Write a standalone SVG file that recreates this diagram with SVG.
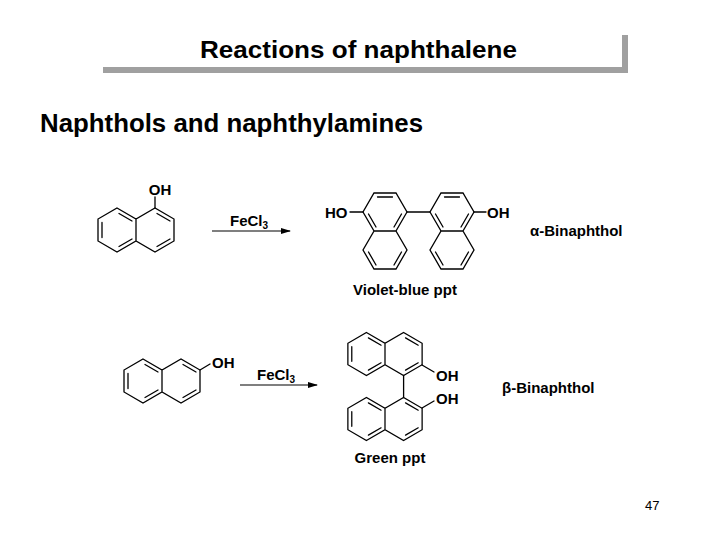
<svg xmlns="http://www.w3.org/2000/svg" xmlns:xlink="http://www.w3.org/1999/xlink" width="720" height="540" viewBox="0 0 720 540">
<style>
text{font-family:"Liberation Sans",Arial,sans-serif;fill:#000}
.b{font-weight:bold}
.lbl{font-size:15px;font-weight:bold}
.bd{stroke:#000;stroke-width:1.3;fill:none;stroke-linecap:round}
</style>
<defs>
<g id="naph" class="bd">
<path d="M-19,-22 L0,-11 L19,-22 L38,-11 L38,11 L19,22 L0,11 L-19,22 L-38,11 L-38,-11 Z M0,-11 L0,11"/>
<path d="M-17,-16.5 L-4,-9 M-4,9 L-17,16.5 M-34,7.5 L-34,-7.5 M21,-16.5 L34,-9 M34,9 L21,16.5"/>
</g>
<marker id="ah" markerWidth="10" markerHeight="6" refX="9" refY="3" orient="auto" markerUnits="userSpaceOnUse"><path d="M0,0 L10,3 L0,6 Z" fill="#000"/></marker>
</defs>
<rect width="720" height="540" fill="#fff"/>
<g id="title">
<rect x="103" y="67" width="525" height="6" fill="#a0a0a0"/>
<rect x="622" y="35" width="6" height="38" fill="#a0a0a0"/>
<text x="200" y="58" class="b" font-size="24" textLength="317" lengthAdjust="spacingAndGlyphs">Reactions of naphthalene</text>
</g>
<text x="40" y="132" class="b" font-size="25" textLength="383" lengthAdjust="spacingAndGlyphs">Naphthols and naphthylamines</text>
<g id="naphthol1">
<use xlink:href="#naph" transform="translate(136,230)"/>
<line class="bd" x1="155" y1="208" x2="155" y2="197"/>
<text x="160" y="195" text-anchor="middle" class="lbl">OH</text>
</g>
<g id="alpha">
<use xlink:href="#naph" transform="translate(385,231) rotate(90)"/>
<use xlink:href="#naph" transform="translate(452,231) scale(-1,1) rotate(90)"/>
<line class="bd" x1="407" y1="212" x2="430" y2="212"/>
<line class="bd" x1="363" y1="212" x2="350" y2="212"/>
<line class="bd" x1="474" y1="212" x2="486" y2="212"/>
<text x="325" y="218" class="lbl">HO</text>
<text x="487" y="218" class="lbl">OH</text>
<text x="405" y="295" text-anchor="middle" class="lbl">Violet-blue ppt</text>
<text x="530" y="236" class="lbl">α-Binaphthol</text>
</g>
<g id="naphthol2">
<use xlink:href="#naph" transform="translate(162,381)"/>
<line class="bd" x1="200" y1="370" x2="210" y2="364"/>
<text x="212" y="368" class="lbl">OH</text>
</g>
<g id="beta">
<use xlink:href="#naph" transform="translate(385,354) scale(0.977)"/>
<use xlink:href="#naph" transform="translate(385,419) scale(0.977,-0.977)"/>
<line class="bd" x1="403.6" y1="375.5" x2="403.6" y2="397.5"/>
<line class="bd" x1="422" y1="365" x2="434" y2="372"/>
<line class="bd" x1="422" y1="408" x2="434" y2="401"/>
<text x="436" y="381" class="lbl">OH</text>
<text x="436" y="404" class="lbl">OH</text>
<text x="390" y="463" text-anchor="middle" class="lbl">Green ppt</text>
<text x="502" y="393" class="lbl">β-Binaphthol</text>
</g>
<g id="connectors">
<line x1="212" y1="231" x2="290" y2="231" stroke="#000" stroke-width="1.2" marker-end="url(#ah)"/>
<line x1="240" y1="385" x2="317" y2="385" stroke="#000" stroke-width="1.2" marker-end="url(#ah)"/>
<text x="230" y="226" class="lbl">FeCl<tspan font-size="10" dy="3">3</tspan></text>
<text x="257" y="380" class="lbl">FeCl<tspan font-size="10" dy="3">3</tspan></text>
</g>
<text x="645" y="510" font-size="13">47</text>
</svg>
